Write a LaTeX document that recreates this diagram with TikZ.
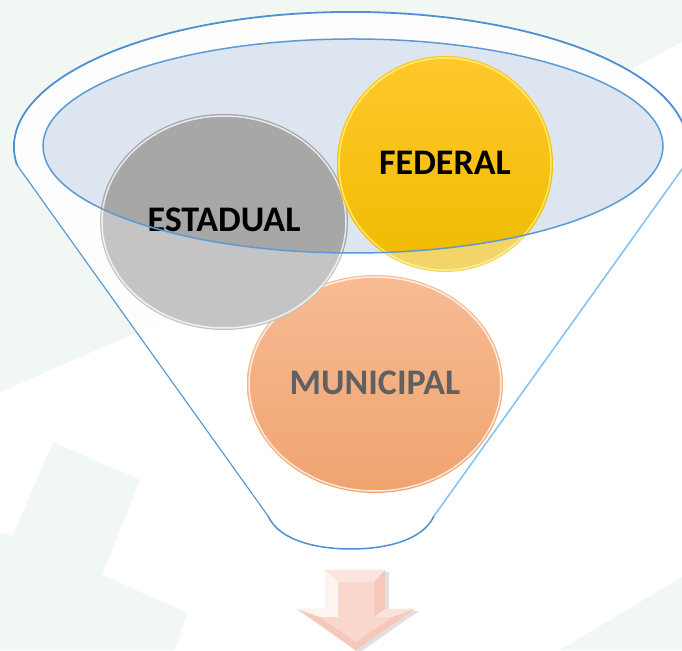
\documentclass[tikz,border=0pt]{standalone}
\usepackage{fontspec}
\setmainfont{Carlito}

\definecolor{bgpale}{HTML}{F1F7F2}
\definecolor{rimblue}{HTML}{4F8FD3}
\definecolor{sideblue}{HTML}{5B9BD5}
\definecolor{lightblue}{HTML}{7EC3F2}
\definecolor{tint}{HTML}{DDE6F0}
\definecolor{grayout}{HTML}{C4C4C4}
\definecolor{grayin}{HTML}{A7A7A7}
\definecolor{yellowout}{HTML}{F3D468}
\definecolor{yellowtop}{HTML}{FFC82C}
\definecolor{yellowbot}{HTML}{EFBB00}
\definecolor{salmontop}{HTML}{F7BB93}
\definecolor{salmonbot}{HTML}{F0A470}
\definecolor{darktext}{HTML}{606060}
\definecolor{arrowpink}{HTML}{F5C8BA}
\definecolor{arrowface}{HTML}{F9D7CC}

\begin{document}
\begin{tikzpicture}[x = 1pt, y = 1pt,
  label text/.style = {font = \bfseries\fontsize{36}{40}\selectfont, inner sep = 0pt},
  bg patch/.style = {fill = bgpale},
  gloss/.style = {draw = white, line width = 1.5pt, opacity = 0.75}]

\useasboundingbox (0, 0) rectangle (682, 650);
\clip (0, 0) rectangle (682, 650);
\fill [white] (0, 0) rectangle (682, 650);

% background
\path [bg patch] (0, 650) -- (682, 650) -- (682, 608) -- (160, 328) -- (0, 258) -- cycle;
\path [bg patch] (53, 208) -- (140, 170) -- (102, 75) -- (187, 37) -- (175, 0) -- (0, 0) -- (0, 117) -- (13, 115) -- cycle;
\path [bg patch] (682, 73) -- (682, 0) -- (560, 0) -- cycle;

% funnel
\coordinate (rim west) at (17, 485);
\coordinate (rim east) at (685, 485);
\coordinate (neck west) at (268, 134);
\coordinate (neck east) at (434, 134);
\coordinate (neck bottom) at (351, 101);

\path [fill = white, fill opacity = 0.8] (rim west) arc [start angle = 187.7, end angle = -7.7, x radius = 337pt, y radius = 135pt]
  -- (neck east) .. controls (422, 108) and (382, 101) .. (neck bottom) .. controls (320, 101) and (280, 108) .. (neck west) -- cycle;
\path [draw = rimblue, line width = 1.8pt] (rim west) arc [start angle = 187.7, end angle = -7.7, x radius = 337pt, y radius = 135pt];
\path [draw = sideblue, line width = 1.2pt] (rim west) -- (neck west);
\path [draw = lightblue, line width = 1.5pt] (rim east) -- (neck east);
\path [draw = rimblue, line width = 1.5pt] (neck west) .. controls (280, 108) and (320, 101) .. (neck bottom) .. controls (382, 101) and (422, 108) .. (neck east);

% top of the funnel
\path [fill = tint] (353, 504) ellipse [x radius = 310pt, y radius = 107pt];

% balls
\path [top color = salmontop, bottom color = salmonbot] (375, 266) ellipse [x radius = 128pt, y radius = 109pt];
\path [gloss] (375, 266) ellipse [x radius = 126pt, y radius = 107pt];
\path [fill = grayout] (224, 428) ellipse [x radius = 124pt, y radius = 108pt];
\path [gloss] (224, 428) ellipse [x radius = 122pt, y radius = 106pt];
\path [fill = yellowout] (445, 486) circle [radius = 108pt];
\path [gloss, draw = yellow!40] (445, 486) circle [radius = 106pt];

\begin{scope}
  \clip (353, 504) ellipse [x radius = 310pt, y radius = 107pt];
  \path [fill = grayin] (224, 428) ellipse [x radius = 124pt, y radius = 108pt];
  \path [gloss] (224, 428) ellipse [x radius = 122pt, y radius = 106pt];
  \path [top color = yellowtop, bottom color = yellowbot] (445, 486) circle [radius = 108pt];
  \path [gloss, draw = yellow!50] (445, 486) circle [radius = 106pt];
\end{scope}

\node [label text, text = black] (estadual) at (224, 430) {ESTADUAL};
\node [label text, text = black] (federal) at (445, 487) {FEDERAL};
\node [label text, text = darktext] (municipal) at (375, 267) {MUNICIPAL};

\path [draw = sideblue, line width = 1.5pt] (353, 504) ellipse [x radius = 310pt, y radius = 107pt];

% arrow
\path [fill = black, opacity = 0.12] (329, 78) -- (389, 78) -- (389, 39) -- (419, 39) -- (359, -3) -- (300, 39) -- (329, 39) -- cycle;
\path [fill = arrowpink] (325, 80) -- (385, 80) -- (385, 41) -- (415, 41) -- (356, 0) -- (297, 41) -- (325, 41) -- cycle;
\path [fill = arrowface] (338, 68) -- (374, 68) -- (374, 33) -- (392, 33) -- (356, 8) -- (320, 33) -- (338, 33) -- cycle;
\path [fill = white, opacity = 0.55] (325, 80) -- (385, 80) -- (374, 68) -- (338, 68) -- cycle;
\path [fill = white, opacity = 0.8] (325, 80) -- (338, 68) -- (338, 33) -- (325, 41) -- cycle;
\path [fill = white, opacity = 0.8] (297, 41) -- (325, 41) -- (338, 33) -- (320, 33) -- cycle;
\path [fill = white, opacity = 0.5] (385, 41) -- (415, 41) -- (392, 33) -- (374, 33) -- cycle;
\end{tikzpicture}
\end{document}
